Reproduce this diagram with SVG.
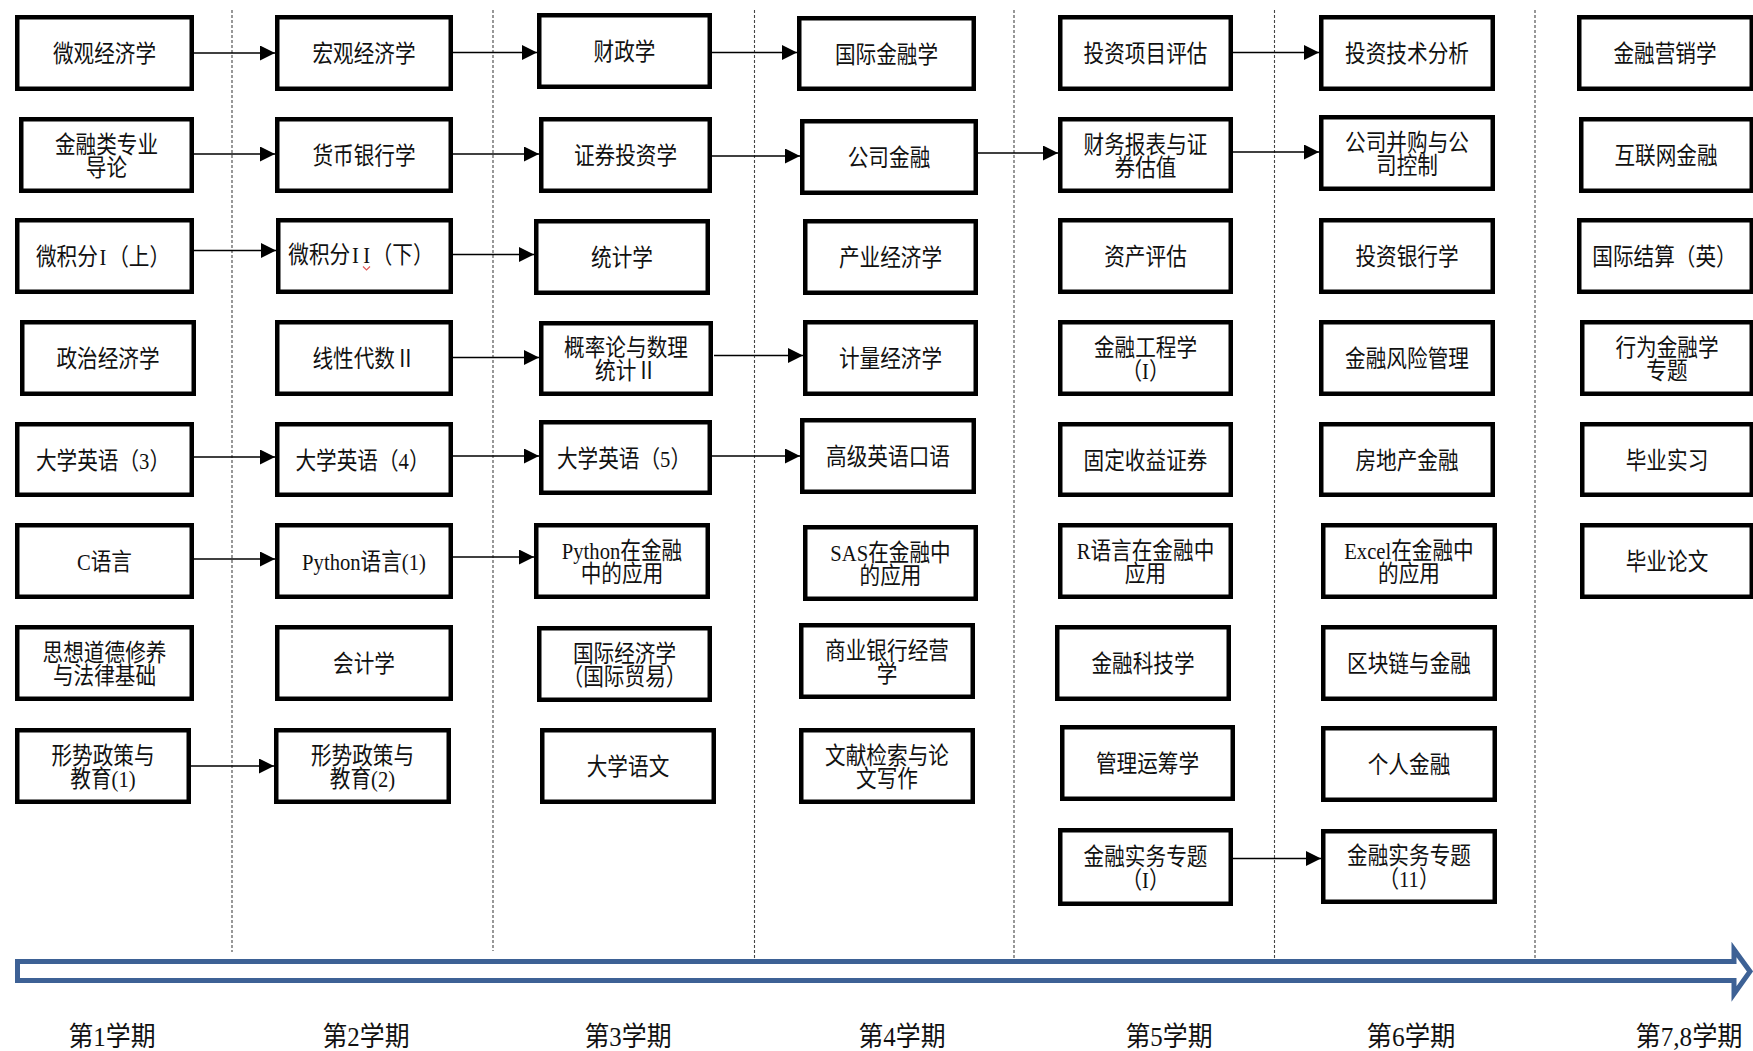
<svg xmlns="http://www.w3.org/2000/svg" width="1753" height="1051" viewBox="0 0 1753 1051">
<style>
.b{fill:#fff;stroke:#000;stroke-width:4.5}
.t{font-family:"Liberation Serif","Noto Sans CJK SC",serif;font-size:24px;text-anchor:middle;fill:#111}
.lab{font-family:"Liberation Serif","Noto Sans CJK SC",serif;font-size:27px;text-anchor:middle;fill:#111}
.c line{stroke:#000;stroke-width:1.3;fill:none;marker-end:url(#ah)}
.d{stroke:#444;stroke-width:1.1;stroke-dasharray:3 2;fill:none}
</style>
<defs>
<marker id="ah" markerUnits="userSpaceOnUse" markerWidth="15" markerHeight="15" refX="15" refY="7.5" orient="auto">
<path d="M0,0 L15,7.5 L0,15 z" fill="#000"/>
</marker>
</defs>
<rect width="1753" height="1051" fill="#fff"/>

<g id="dividers">
<line class="d" x1="232" y1="10" x2="232" y2="952"/>
<line class="d" x1="493" y1="10" x2="493" y2="951"/>
<line class="d" x1="754.5" y1="10" x2="754.5" y2="959"/>
<line class="d" x1="1014" y1="10" x2="1014" y2="959"/>
<line class="d" x1="1274.5" y1="10" x2="1274.5" y2="959"/>
<line class="d" x1="1535" y1="10" x2="1535" y2="959"/>
</g>

<g id="timeline">
<path d="M17.5,961.5 H1734 V949.5 L1750,971.5 L1734,994 V980.5 H17.5 Z" fill="#fff" stroke="#3D6195" stroke-width="5" stroke-linejoin="miter"/>
</g>

<!-- Column 1 -->
<g id="c1r1"><rect class="b" x="17.25" y="17.25" width="174.5" height="71.5"/><text class="t" transform="matrix(.86 0 0 1 104.5 0)"><tspan x="0" y="62.1">微观经济学</tspan></text></g>
<g id="c1r2"><rect class="b" x="21.25" y="119.25" width="170.5" height="71.5"/><text class="t" transform="matrix(.86 0 0 1 106.5 0)"><tspan x="0" y="152.6">金融类专业</tspan><tspan x="0" y="175.6">导论</tspan></text></g>
<g id="c1r3"><rect class="b" x="17.25" y="220.25" width="174.5" height="71.5"/><text class="t" transform="matrix(.86 0 0 1 103 0)"><tspan x="0" y="265.1">微积分<tspan dx="2">I</tspan><tspan dx="2">（上）</tspan></tspan></text></g>
<g id="c1r4"><rect class="b" x="22.25" y="322.25" width="171.5" height="71.5"/><text class="t" transform="matrix(.86 0 0 1 108 0)"><tspan x="0" y="367.1">政治经济学</tspan></text></g>
<g id="c1r5"><rect class="b" x="17.25" y="424.25" width="174.5" height="70.5"/><text class="t" transform="matrix(.86 0 0 1 103 0)"><tspan x="0" y="468.6">大学英语（3）</tspan></text></g>
<g id="c1r6"><rect class="b" x="17.25" y="525.25" width="174.5" height="71.5"/><text class="t" transform="matrix(.86 0 0 1 104.5 0)"><tspan x="0" y="570.1">C语言</tspan></text></g>
<g id="c1r7"><rect class="b" x="17.25" y="627.25" width="174.5" height="71.5"/><text class="t" transform="matrix(.86 0 0 1 104.5 0)"><tspan x="0" y="660.6">思想道德修养</tspan><tspan x="0" y="683.6">与法律基础</tspan></text></g>
<g id="c1r8"><rect class="b" x="17.25" y="730.25" width="171.5" height="71.5"/><text class="t" transform="matrix(.86 0 0 1 103 0)"><tspan x="0" y="763.6">形势政策与</tspan><tspan x="0" y="786.6">教育(1)</tspan></text></g>

<!-- Column 2 -->
<g id="c2r1"><rect class="b" x="277.25" y="17.25" width="173.5" height="71.5"/><text class="t" transform="matrix(.86 0 0 1 364 0)"><tspan x="0" y="62.1">宏观经济学</tspan></text></g>
<g id="c2r2"><rect class="b" x="277.25" y="119.25" width="173.5" height="71.5"/><text class="t" transform="matrix(.86 0 0 1 364 0)"><tspan x="0" y="164.1">货币银行学</tspan></text></g>
<g id="c2r3"><rect class="b" x="278.25" y="220.25" width="172.5" height="71.5"/><text class="t" transform="matrix(.86 0 0 1 361 0)"><tspan x="0" y="263.1">微积分<tspan dx="2">I</tspan><tspan dx="5">I</tspan><tspan dx="2">（下）</tspan></tspan></text><path d="M363,266.5 L366.5,270 L370,266.5" fill="none" stroke="#e05a5a" stroke-width="1.2"/></g>
<g id="c2r4"><rect class="b" x="277.25" y="322.25" width="173.5" height="71.5"/><text class="t" transform="matrix(.86 0 0 1 364 0)"><tspan x="0" y="367.1">线性代数Ⅱ</tspan></text></g>
<g id="c2r5"><rect class="b" x="277.25" y="424.25" width="173.5" height="70.5"/><text class="t" transform="matrix(.86 0 0 1 362.5 0)"><tspan x="0" y="468.6">大学英语（4）</tspan></text></g>
<g id="c2r6"><rect class="b" x="277.25" y="525.25" width="173.5" height="71.5"/><text class="t" transform="matrix(.86 0 0 1 364 0)"><tspan x="0" y="570.1">Python语言(1)</tspan></text></g>
<g id="c2r7"><rect class="b" x="277.25" y="627.25" width="173.5" height="71.5"/><text class="t" transform="matrix(.86 0 0 1 364 0)"><tspan x="0" y="672.1">会计学</tspan></text></g>
<g id="c2r8"><rect class="b" x="276.25" y="730.25" width="172.5" height="71.5"/><text class="t" transform="matrix(.86 0 0 1 362.5 0)"><tspan x="0" y="763.6">形势政策与</tspan><tspan x="0" y="786.6">教育(2)</tspan></text></g>

<!-- Column 3 -->
<g id="c3r1"><rect class="b" x="539.25" y="15.25" width="170.5" height="71.5"/><text class="t" transform="matrix(.86 0 0 1 624.5 0)"><tspan x="0" y="60.1">财政学</tspan></text></g>
<g id="c3r2"><rect class="b" x="541.25" y="119.25" width="168.5" height="71.5"/><text class="t" transform="matrix(.86 0 0 1 625.5 0)"><tspan x="0" y="164.1">证券投资学</tspan></text></g>
<g id="c3r3"><rect class="b" x="536.25" y="221.25" width="171.5" height="71.5"/><text class="t" transform="matrix(.86 0 0 1 622 0)"><tspan x="0" y="266.1">统计学</tspan></text></g>
<g id="c3r4"><rect class="b" x="541.25" y="323.25" width="169.5" height="70.5"/><text class="t" transform="matrix(.86 0 0 1 626 0)"><tspan x="0" y="356.1">概率论与数理</tspan><tspan x="0" y="379.1">统计Ⅱ</tspan></text></g>
<g id="c3r5"><rect class="b" x="541.25" y="422.25" width="168.5" height="70.5"/><text class="t" transform="matrix(.86 0 0 1 624 0)"><tspan x="0" y="466.6">大学英语（5）</tspan></text></g>
<g id="c3r6"><rect class="b" x="536.25" y="525.25" width="171.5" height="71.5"/><text class="t" transform="matrix(.86 0 0 1 622 0)"><tspan x="0" y="558.6">Python在金融</tspan><tspan x="0" y="581.6">中的应用</tspan></text></g>
<g id="c3r7"><rect class="b" x="539.25" y="628.25" width="170.5" height="71.5"/><text class="t" transform="matrix(.86 0 0 1 624.5 0)"><tspan x="0" y="661.6">国际经济学</tspan><tspan x="0" y="684.6">（国际贸易）</tspan></text></g>
<g id="c3r8"><rect class="b" x="542.25" y="730.25" width="171.5" height="71.5"/><text class="t" transform="matrix(.86 0 0 1 628 0)"><tspan x="0" y="775.1">大学语文</tspan></text></g>

<!-- Column 4 -->
<g id="c4r1"><rect class="b" x="799.25" y="18.25" width="174.5" height="70.5"/><text class="t" transform="matrix(.86 0 0 1 886.5 0)"><tspan x="0" y="62.6">国际金融学</tspan></text></g>
<g id="c4r2"><rect class="b" x="802.25" y="121.25" width="173.5" height="71.5"/><text class="t" transform="matrix(.86 0 0 1 889 0)"><tspan x="0" y="166.1">公司金融</tspan></text></g>
<g id="c4r3"><rect class="b" x="805.25" y="221.25" width="170.5" height="71.5"/><text class="t" transform="matrix(.86 0 0 1 890.5 0)"><tspan x="0" y="266.1">产业经济学</tspan></text></g>
<g id="c4r4"><rect class="b" x="805.25" y="322.25" width="170.5" height="71.5"/><text class="t" transform="matrix(.86 0 0 1 890.5 0)"><tspan x="0" y="367.1">计量经济学</tspan></text></g>
<g id="c4r5"><rect class="b" x="802.25" y="420.25" width="171.5" height="71.5"/><text class="t" transform="matrix(.86 0 0 1 888 0)"><tspan x="0" y="465.1">高级英语口语</tspan></text></g>
<g id="c4r6"><rect class="b" x="805.25" y="527.25" width="170.5" height="71.5"/><text class="t" transform="matrix(.86 0 0 1 890.5 0)"><tspan x="0" y="560.6">SAS在金融中</tspan><tspan x="0" y="583.6">的应用</tspan></text></g>
<g id="c4r7"><rect class="b" x="801.25" y="625.25" width="171.5" height="71.5"/><text class="t" transform="matrix(.86 0 0 1 887 0)"><tspan x="0" y="658.6">商业银行经营</tspan><tspan x="0" y="681.6">学</tspan></text></g>
<g id="c4r8"><rect class="b" x="801.25" y="730.25" width="171.5" height="71.5"/><text class="t" transform="matrix(.86 0 0 1 887 0)"><tspan x="0" y="763.6">文献检索与论</tspan><tspan x="0" y="786.6">文写作</tspan></text></g>

<!-- Column 5 -->
<g id="c5r1"><rect class="b" x="1060.25" y="17.25" width="170.5" height="71.5"/><text class="t" transform="matrix(.86 0 0 1 1145.5 0)"><tspan x="0" y="62.1">投资项目评估</tspan></text></g>
<g id="c5r2"><rect class="b" x="1060.25" y="119.25" width="170.5" height="71.5"/><text class="t" transform="matrix(.86 0 0 1 1145.5 0)"><tspan x="0" y="152.6">财务报表与证</tspan><tspan x="0" y="175.6">券估值</tspan></text></g>
<g id="c5r3"><rect class="b" x="1060.25" y="220.25" width="170.5" height="71.5"/><text class="t" transform="matrix(.86 0 0 1 1145.5 0)"><tspan x="0" y="265.1">资产评估</tspan></text></g>
<g id="c5r4"><rect class="b" x="1060.25" y="322.25" width="170.5" height="71.5"/><text class="t" transform="matrix(.86 0 0 1 1145.5 0)"><tspan x="0" y="355.6">金融工程学</tspan><tspan x="0" y="378.6">（I）</tspan></text></g>
<g id="c5r5"><rect class="b" x="1060.25" y="424.25" width="170.5" height="70.5"/><text class="t" transform="matrix(.86 0 0 1 1145.5 0)"><tspan x="0" y="468.6">固定收益证券</tspan></text></g>
<g id="c5r6"><rect class="b" x="1060.25" y="525.25" width="170.5" height="71.5"/><text class="t" transform="matrix(.86 0 0 1 1145.5 0)"><tspan x="0" y="558.6">R语言在金融中</tspan><tspan x="0" y="581.6">应用</tspan></text></g>
<g id="c5r7"><rect class="b" x="1057.25" y="627.25" width="171.5" height="71.5"/><text class="t" transform="matrix(.86 0 0 1 1143 0)"><tspan x="0" y="672.1">金融科技学</tspan></text></g>
<g id="c5r8"><rect class="b" x="1062.25" y="727.25" width="170.5" height="71.5"/><text class="t" transform="matrix(.86 0 0 1 1147.5 0)"><tspan x="0" y="772.1">管理运筹学</tspan></text></g>
<g id="c5r9"><rect class="b" x="1060.25" y="830.25" width="170.5" height="73.5"/><text class="t" transform="matrix(.86 0 0 1 1145.5 0)"><tspan x="0" y="864.6">金融实务专题</tspan><tspan x="0" y="887.6">（I）</tspan></text></g>

<!-- Column 6 -->
<g id="c6r1"><rect class="b" x="1321.25" y="17.25" width="171.5" height="71.5"/><text class="t" transform="matrix(.86 0 0 1 1407 0)"><tspan x="0" y="62.1">投资技术分析</tspan></text></g>
<g id="c6r2"><rect class="b" x="1321.25" y="117.25" width="171.5" height="71.5"/><text class="t" transform="matrix(.86 0 0 1 1407 0)"><tspan x="0" y="150.6">公司并购与公</tspan><tspan x="0" y="173.6">司控制</tspan></text></g>
<g id="c6r3"><rect class="b" x="1321.25" y="220.25" width="171.5" height="71.5"/><text class="t" transform="matrix(.86 0 0 1 1407 0)"><tspan x="0" y="265.1">投资银行学</tspan></text></g>
<g id="c6r4"><rect class="b" x="1321.25" y="322.25" width="171.5" height="71.5"/><text class="t" transform="matrix(.86 0 0 1 1407 0)"><tspan x="0" y="367.1">金融风险管理</tspan></text></g>
<g id="c6r5"><rect class="b" x="1321.25" y="424.25" width="171.5" height="70.5"/><text class="t" transform="matrix(.86 0 0 1 1407 0)"><tspan x="0" y="468.6">房地产金融</tspan></text></g>
<g id="c6r6"><rect class="b" x="1323.25" y="525.25" width="171.5" height="71.5"/><text class="t" transform="matrix(.86 0 0 1 1409 0)"><tspan x="0" y="558.6">Excel在金融中</tspan><tspan x="0" y="581.6">的应用</tspan></text></g>
<g id="c6r7"><rect class="b" x="1323.25" y="627.25" width="171.5" height="71.5"/><text class="t" transform="matrix(.86 0 0 1 1409 0)"><tspan x="0" y="672.1">区块链与金融</tspan></text></g>
<g id="c6r8"><rect class="b" x="1323.25" y="728.25" width="171.5" height="71.5"/><text class="t" transform="matrix(.86 0 0 1 1409 0)"><tspan x="0" y="773.1">个人金融</tspan></text></g>
<g id="c6r9"><rect class="b" x="1323.25" y="831.25" width="171.5" height="70.5"/><text class="t" transform="matrix(.86 0 0 1 1409 0)"><tspan x="0" y="864.1">金融实务专题</tspan><tspan x="0" y="887.1">（11）</tspan></text></g>

<!-- Column 7 -->
<g id="c7r1"><rect class="b" x="1579.25" y="17.25" width="172.5" height="71.5"/><text class="t" transform="matrix(.86 0 0 1 1665 0)"><tspan x="0" y="62.1">金融营销学</tspan></text></g>
<g id="c7r2"><rect class="b" x="1581.25" y="119.25" width="170.5" height="71.5"/><text class="t" transform="matrix(.86 0 0 1 1666 0)"><tspan x="0" y="164.1">互联网金融</tspan></text></g>
<g id="c7r3"><rect class="b" x="1579.25" y="220.25" width="172.5" height="71.5"/><text class="t" transform="matrix(.86 0 0 1 1664.5 0)"><tspan x="0" y="265.1">国际结算（英）</tspan></text></g>
<g id="c7r4"><rect class="b" x="1582.25" y="322.25" width="169.5" height="71.5"/><text class="t" transform="matrix(.86 0 0 1 1667 0)"><tspan x="0" y="355.6">行为金融学</tspan><tspan x="0" y="378.6">专题</tspan></text></g>
<g id="c7r5"><rect class="b" x="1582.25" y="424.25" width="169.5" height="70.5"/><text class="t" transform="matrix(.86 0 0 1 1667 0)"><tspan x="0" y="468.6">毕业实习</tspan></text></g>
<g id="c7r6"><rect class="b" x="1582.25" y="525.25" width="169.5" height="71.5"/><text class="t" transform="matrix(.86 0 0 1 1667 0)"><tspan x="0" y="570.1">毕业论文</tspan></text></g>

<g id="connectors" class="c">
<line x1="194" y1="53" x2="275" y2="53"/>
<line x1="453" y1="52.5" x2="537" y2="52.5"/>
<line x1="712" y1="52.5" x2="797" y2="52.5"/>
<line x1="1233" y1="52.5" x2="1319" y2="52.5"/>
<line x1="194" y1="154" x2="275" y2="154"/>
<line x1="453" y1="154" x2="539" y2="154"/>
<line x1="712" y1="156" x2="800" y2="156"/>
<line x1="978" y1="153" x2="1058" y2="153"/>
<line x1="1233" y1="152" x2="1319" y2="152"/>
<line x1="194" y1="250.5" x2="276" y2="250.5"/>
<line x1="453" y1="254.5" x2="534" y2="254.5"/>
<line x1="453" y1="357.5" x2="539" y2="357.5"/>
<line x1="714" y1="355.5" x2="803" y2="355.5"/>
<line x1="194" y1="457" x2="275" y2="457"/>
<line x1="453" y1="456" x2="539" y2="456"/>
<line x1="712" y1="456" x2="800" y2="456"/>
<line x1="194" y1="559" x2="275" y2="559"/>
<line x1="453" y1="557" x2="534" y2="557"/>
<line x1="191" y1="766" x2="274" y2="766"/>
<line x1="1233" y1="858.5" x2="1321" y2="858.5"/>
</g>

<g id="labels">
<text class="lab" x="112" y="1046" textLength="87" lengthAdjust="spacingAndGlyphs">第1学期</text>
<text class="lab" x="366" y="1046" textLength="87" lengthAdjust="spacingAndGlyphs">第2学期</text>
<text class="lab" x="628" y="1046" textLength="87" lengthAdjust="spacingAndGlyphs">第3学期</text>
<text class="lab" x="902" y="1046" textLength="87" lengthAdjust="spacingAndGlyphs">第4学期</text>
<text class="lab" x="1169" y="1046" textLength="87" lengthAdjust="spacingAndGlyphs">第5学期</text>
<text class="lab" x="1411" y="1046" textLength="89" lengthAdjust="spacingAndGlyphs">第6学期</text>
<text class="lab" x="1689" y="1046" textLength="107" lengthAdjust="spacingAndGlyphs">第7,8学期</text>
</g>
</svg>
